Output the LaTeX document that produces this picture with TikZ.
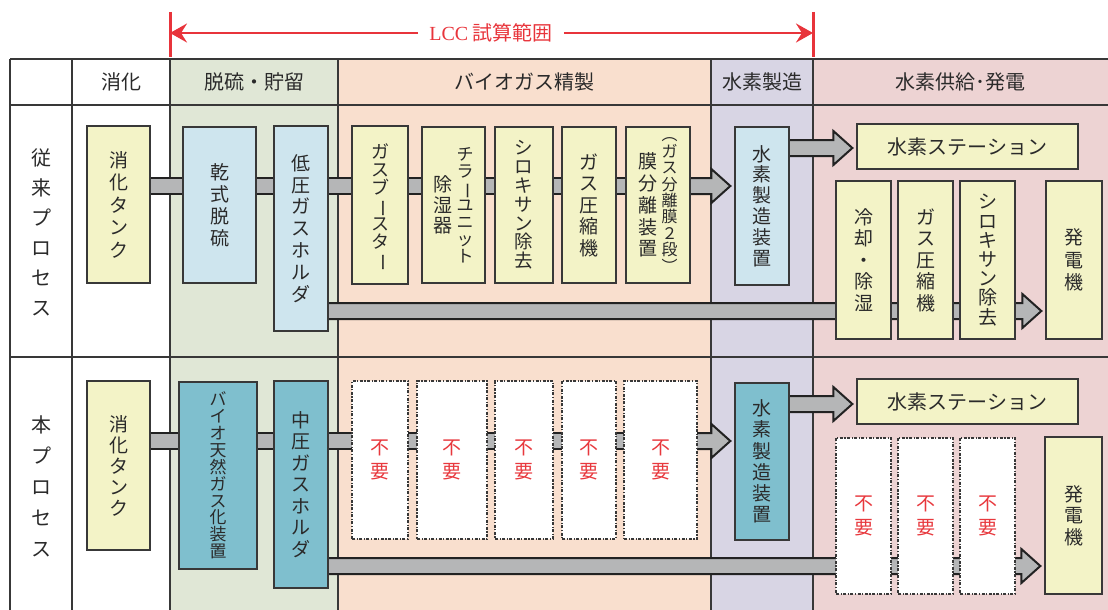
\documentclass[tikz,border=0pt]{standalone}
\usepackage{fontspec}
\setmainfont{Noto Sans CJK JP}
\newfontfamily\latserif{Liberation Serif}
\usepackage{graphicx}
\usetikzlibrary{calc,arrows.meta}
\pgfdeclarelayer{bg}\pgfdeclarelayer{pipes}
\pgfsetlayers{bg,pipes,main}
\definecolor{yelF}{HTML}{F3F3C7}
\definecolor{bluF}{HTML}{CEE5EE}
\definecolor{tealF}{HTML}{7FBFCE}
\definecolor{colG}{HTML}{E0E7D6}
\definecolor{colP}{HTML}{F9DFCE}
\definecolor{colL}{HTML}{D8D5E4}
\definecolor{colK}{HTML}{EDD3D3}
\definecolor{bdr}{HTML}{383838}
\definecolor{txt}{HTML}{2A2A2A}
\definecolor{pipeg}{HTML}{B5B6B7}
\definecolor{adark}{HTML}{222222}
\definecolor{lccred}{HTML}{E8343B}
\definecolor{nored}{HTML}{E8383D}
% vertical stack: font size, pitch, lines separated by \\
\newcommand\vsf[3]{\parbox[c]{#1pt}{\fontsize{#1}{#2}\selectfont\lineskiplimit=-100pt\centering #3}}
\newcommand\vbar{\smash{\rotatebox[origin=c]{-90}{ー}}}
\newcommand\bx[7]{\node[#6, minimum width={#4-#2}, minimum height={#5-#3}] (#1) at ({(#2+#4)/2},{(#3+#5)/2}) {#7};}
\tikzset{
  boxbase/.style={draw=bdr, line width=1.3pt, inner sep=0pt, text=txt},
  yb/.style={boxbase, fill=yelF},
  bb/.style={boxbase, fill=bluF},
  tb/.style={boxbase, fill=tealF},
  nb/.style={boxbase, fill=white, line width=1.1pt, dash pattern=on 3pt off 1.5pt on 1.2pt off 1.5pt, text=nored},
  grid/.style={draw=bdr, line width=1.4pt},
  hdr/.style={text=txt, font=\fontsize{20}{24}\selectfont, inner sep=0pt},
  pipe/.style={draw=adark, line width=2pt, double=pipeg, double distance=14pt},
  barrow/.style={draw=adark, line width=2pt, fill=pipeg, line join=miter,
    to path={let \p1=(\tikztostart), \p2=(\tikztotarget) in
      (\x1,\y1+8pt) -- (\x2-23pt,\y1+8pt) -- (\x2-23pt,\y1+17pt) -- (\x2-4pt,\y1)
      -- (\x2-23pt,\y1-17pt) -- (\x2-23pt,\y1-8pt) -- (\x1,\y1-8pt) -- cycle}},
  redbar/.style={draw=lccred, line width=3pt},
  redarr/.style={draw=lccred, line width=2.8pt, -{Stealth[length=17pt,width=19pt,inset=6pt]}},
}
\begin{document}
\begin{tikzpicture}[x=1pt,y=-1pt]
\useasboundingbox (0,0) rectangle (1108,610);
% ---------- background table ----------
\begin{pgfonlayer}{bg}
\fill[colG] (170,59) rectangle (338,610);
\fill[colP] (338,59) rectangle (711,610);
\fill[colL] (711,59) rectangle (813,610);
\fill[colK] (813,59) rectangle (1108,610);
\foreach \yy in {59,105,357} \draw[grid] (10,\yy) -- (1108,\yy);
\foreach \xx in {10,72,170,338,711,813} \draw[grid] (\xx,59) -- (\xx,610);
\end{pgfonlayer}
% ---------- LCC range ----------
\draw[redbar] (170,12) -- (170,57);
\draw[redbar] (813,12) -- (813,57);
\coordinate (lccL) at (170,33);
\coordinate (lccR) at (813,33);
\node[font=\fontsize{20}{24}\selectfont, text=lccred, inner xsep=11pt, inner ysep=2pt] (lcc) at (491,33) {{\latserif LCC} 試算範囲};
\draw[redarr] (lcc.west) -- (lccL);
\draw[redarr] (lcc.east) -- (lccR);
% ---------- headers ----------
\node[hdr] (h1) at (121,82) {消化};
\node[hdr] (h2) at (254,82) {脱硫・貯留};
\node[hdr] (h3) at (524.5,82) {バイオガス精製};
\node[hdr] (h4) at (762,82) {水素製造};
\node[hdr] (h5) at (960.5,82) {水素供給･発電};
\node[hdr] (lab1) at (41,232) {\vsf{20}{30}{従\\来\\プ\\ロ\\セ\\ス}};
\node[hdr] (lab2) at (41,486) {\vsf{20}{31}{本\\プ\\ロ\\セ\\ス}};
% ---------- row 1 ----------
\bx{tank1}{87}{126}{150}{283}{yb}{\vsf{19}{22.5}{消\\化\\タ\\ン\\ク}}
\bx{dry}{183}{127}{256}{283}{bb}{\vsf{19}{22}{乾\\式\\脱\\硫}}
\bx{lp}{274}{126}{328}{331}{bb}{\vsf{19}{21.8}{低\\圧\\ガ\\ス\\ホ\\ル\\ダ}}
\bx{gb}{352}{126}{408}{284}{yb}{\vsf{18}{18}{ガ\\ス\\ブ\\\vbar\\ス\\タ\\\vbar}}
\bx{ch}{422}{127}{485}{283}{yb}{\vsf{19}{20.5}{除\\湿\\器}\hspace{4pt}\vsf{17}{17}{チ\\ラ\\\vbar\\ユ\\ニ\\ッ\\ト}}
\bx{sx1}{495}{127}{553}{283}{yb}{\vsf{18.5}{18.8}{シ\\ロ\\キ\\サ\\ン\\除\\去}}
\bx{gc1}{562}{127}{616}{283}{yb}{\vsf{19}{21.5}{ガ\\ス\\圧\\縮\\機}}
\bx{mb}{626}{127}{690}{283}{yb}{\vsf{19}{21.8}{膜\\分\\離\\装\\置}\hspace{4pt}\vsf{16}{16.4}{︵\\ガ\\ス\\分\\離\\膜\\２\\段\\︶}}
\bx{h2a}{735}{127}{789}{285}{bb}{\vsf{19}{20.8}{水\\素\\製\\造\\装\\置}}
\bx{st1}{857}{124}{1078}{169}{yb}{\fontsize{20}{24}\selectfont 水素ステーション}
\bx{cl}{836}{181}{891}{339}{yb}{\vsf{19}{21.5}{冷\\却\\・\\除\\湿}}
\bx{gc2}{898}{181}{953}{339}{yb}{\vsf{19}{21.5}{ガ\\ス\\圧\\縮\\機}}
\bx{sx2}{960}{181}{1015}{339}{yb}{\vsf{19}{19.2}{シ\\ロ\\キ\\サ\\ン\\除\\去}}
\bx{gen1}{1046}{181}{1102}{339}{yb}{\vsf{19}{22.5}{発\\電\\機}}
% ---------- row 2 ----------
\bx{tank2}{87}{381}{150}{550}{yb}{\vsf{19}{21}{消\\化\\タ\\ン\\ク}}
\bx{bio}{179}{382}{257}{569}{tb}{\vsf{16.9}{16.9}{バ\\イ\\オ\\天\\然\\ガ\\ス\\化\\装\\置}}
\bx{mp}{274}{381}{328}{588}{tb}{\vsf{19}{21.5}{中\\圧\\ガ\\ス\\ホ\\ル\\ダ}}
\bx{n1}{352}{381}{408}{539}{nb}{\vsf{19}{23.5}{不\\要}}
\bx{n2}{417}{381}{487}{539}{nb}{\vsf{19}{23.5}{不\\要}}
\bx{n3}{495}{381}{553}{539}{nb}{\vsf{19}{23.5}{不\\要}}
\bx{n4}{562}{381}{616}{539}{nb}{\vsf{19}{23.5}{不\\要}}
\bx{n5}{624}{381}{697}{539}{nb}{\vsf{19}{23.5}{不\\要}}
\bx{h2b}{735}{383}{789}{540}{tb}{\vsf{19}{21.2}{水\\素\\製\\造\\装\\置}}
\bx{st2}{857}{379}{1078}{424}{yb}{\fontsize{20}{24}\selectfont 水素ステーション}
\bx{n6}{836}{438}{891}{594}{nb}{\vsf{19}{23.5}{不\\要}}
\bx{n7}{898}{438}{953}{594}{nb}{\vsf{19}{23.5}{不\\要}}
\bx{n8}{960}{438}{1015}{594}{nb}{\vsf{19}{23.5}{不\\要}}
\bx{gen2}{1045}{437}{1102}{594}{yb}{\vsf{19}{21.5}{発\\電\\機}}
% ---------- pipes ----------
\coordinate (r1a) at (0,186);
\coordinate (r1b) at (0,311);
\coordinate (r1s) at (0,148);
\coordinate (r2a) at (0,441);
\coordinate (r2b) at (0,566);
\coordinate (r2s) at (0,404);
\begin{pgfonlayer}{pipes}
\draw[pipe] (tank1 |- r1a) -- (dry |- r1a) -- (lp |- r1a) -- (gb |- r1a) -- (ch |- r1a) -- (sx1 |- r1a) -- (gc1 |- r1a) -- (mb |- r1a);
\draw[barrow] (mb |- r1a) to (h2a.west |- r1a);
\draw[barrow] (h2a |- r1s) to (st1.west |- r1s);
\draw[barrow] (lp |- r1b) to (gen1.west |- r1b);
\draw[pipe] (tank2 |- r2a) -- (bio |- r2a) -- (mp |- r2a) -- (n1 |- r2a) -- (n2 |- r2a) -- (n3 |- r2a) -- (n4 |- r2a) -- (n5 |- r2a);
\draw[barrow] (n5 |- r2a) to (h2b.west |- r2a);
\draw[barrow] (h2b |- r2s) to (st2.west |- r2s);
\draw[barrow] (mp |- r2b) to (gen2.west |- r2b);
\end{pgfonlayer}
\end{tikzpicture}
\end{document}
